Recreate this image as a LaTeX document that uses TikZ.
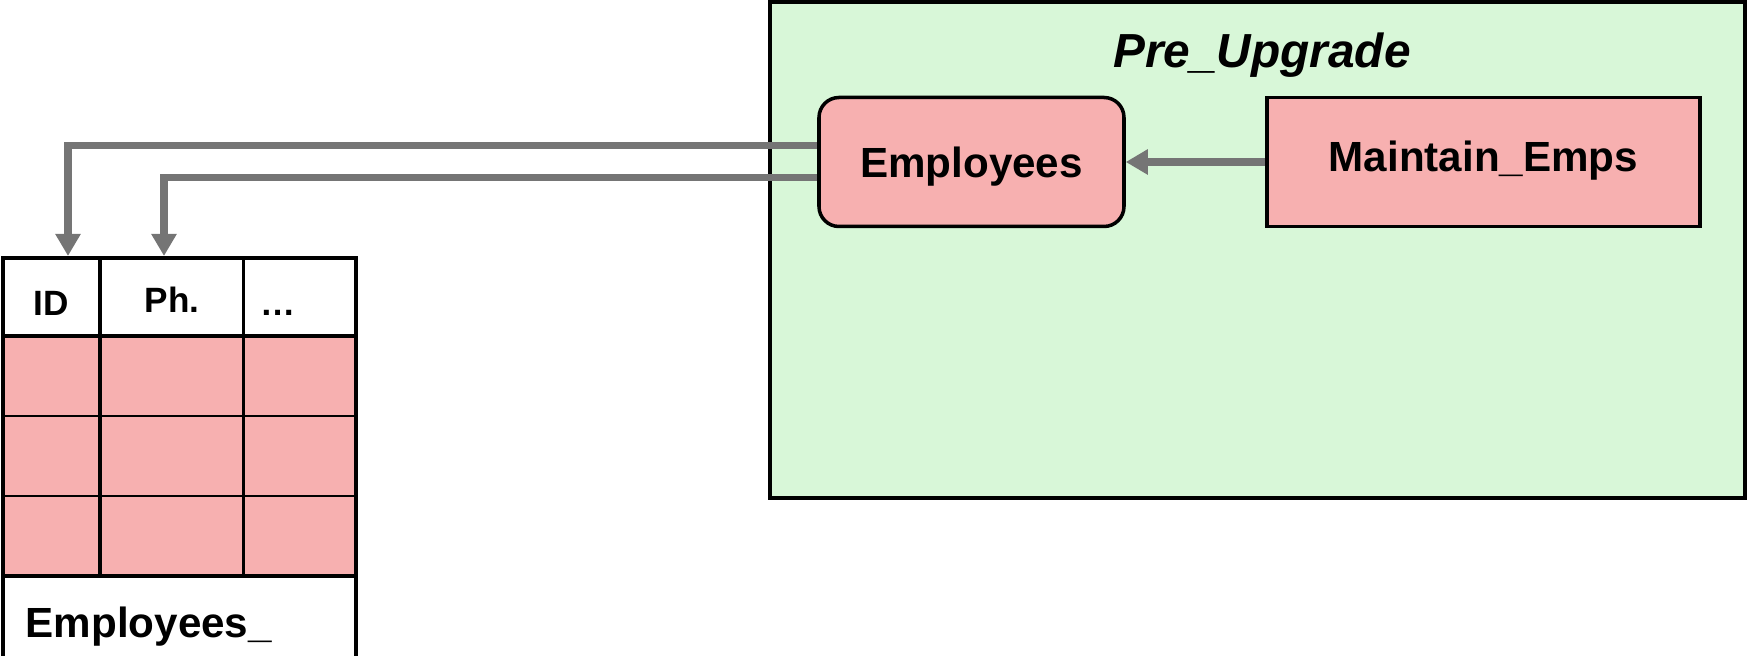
\documentclass[tikz,border=0pt]{standalone}
\usepackage{fontspec}
\setmainfont{Liberation Sans}
\usetikzlibrary{arrows.meta}
\definecolor{dotgreen}{RGB}{216,247,216}
\definecolor{dotred}{RGB}{247,176,176}
\tikzset{
  conn/.style={draw=black!54, line width=2.1pt, -{Triangle[length=0.22cm,width=0.24cm]}},
  progbox/.style={draw, line width=1pt, fill=dotred, minimum height=1.29cm, text depth=0pt, font=\bfseries\fontsize{12}{14}\selectfont},
  hdr/.style={anchor=base, font=\bfseries\fontsize{10}{12}\selectfont},
}
\begin{document}
\begin{tikzpicture}
\useasboundingbox (0,0) rectangle (17.48,-6.56);
% package
\filldraw[fill=dotgreen, line width=1pt] (7.70,-0.02) rectangle (17.45,-4.98);
\node[anchor=base, font=\bfseries\itshape\fontsize{13.6}{16}\selectfont] (title) at (12.62,-0.68) {Pre\_Upgrade};
\node[progbox, rounded corners=0.2cm, minimum width=3.05cm] (emps) at (9.715,-1.62) {Employees};
\node[progbox, minimum width=4.33cm, text depth=0.11cm] (maint) at (14.835,-1.62) {Maintain\_Emps};
\draw[conn] (maint.west) -- (emps.east);
% table
\fill[dotred] (0.03,-3.36) rectangle (3.56,-5.76);
\draw[line width=1.1pt] (0.03,-6.7) -- (0.03,-2.58) -- (3.56,-2.58) -- (3.56,-6.7);
\draw[line width=1.1pt] (0.03,-3.36) -- (3.56,-3.36);
\draw[line width=1.1pt] (0.03,-5.76) -- (3.56,-5.76);
\foreach \y in {-4.16,-4.96}
  \draw[line width=0.8pt] (0.03,\y) -- (3.56,\y);
\foreach \x in {1.00,2.435}
  \draw[line width=0.95pt] (\x,-2.58) -- (\x,-5.76);
\node[hdr] (idlab) at (0.515,-3.16) {ID};
\node[hdr] (phlab) at (1.72,-3.13) {Ph.};
\node[hdr, anchor=base west, inner sep=0pt] (morelab) at (2.60,-3.16) {\dots};
\node[anchor=base west, inner sep=0pt, font=\bfseries\fontsize{12}{14}\selectfont] (tblname) at (0.25,-6.38) {Employees\_};
\coordinate (idtop) at (0.68,-2.56);
\coordinate (phtop) at (1.64,-2.56);
% connectors
\draw[conn] ([yshift=0.165cm]emps.west) -| (idtop);
\draw[conn] ([yshift=-0.155cm]emps.west) -| (phtop);
\end{tikzpicture}
\end{document}
